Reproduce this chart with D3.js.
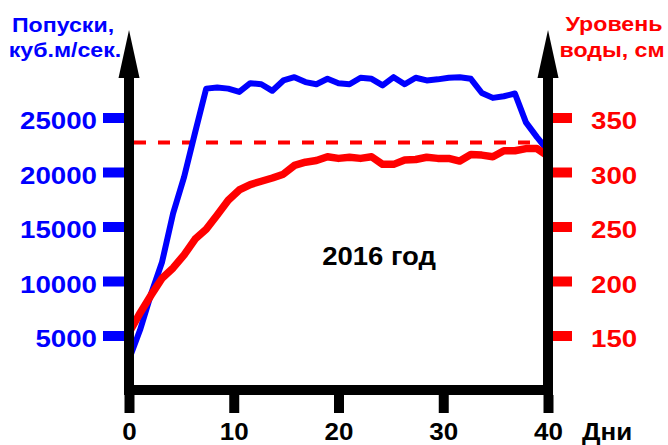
<!DOCTYPE html>
<html>
<head>
<meta charset="utf-8">
<script src="https://cdn.jsdelivr.net/npm/d3@7"></script>
<style>
  html, body { margin: 0; padding: 0; background: #fff; }
  svg { display: block; font-family: "Liberation Sans", Arial, sans-serif; font-weight: bold; }
</style>
</head>
<body>
<svg id="chart" width="668" height="445"></svg>
<script>
// ---- data ----
const days = [0,1,2,3,4,5,6,7,8,9,10,11,12,13,14,15,16,17,18,19,20,21,22,23,24,25,26,27,28,29,30,31,32,33,34,35,36,37,38];
const flow = [2800,5500,8800,11750,16200,19550,23650,27650,27750,27650,27350,28150,28050,27450,28400,28700,28250,28050,28550,28150,28050,28650,28550,27950,28700,28050,28650,28400,28500,28650,28700,28550,27250,26800,26950,27200,24550,23200,21950];
const level = [152.5,170.5,187,202.5,212,224,238.5,247.5,260.5,274,283.5,288.5,291.5,294.5,298,306,309,310.5,314,312.5,313.5,312.5,314,307,307,311,311.5,313.5,312.5,312.5,310,316,315.5,314,319.5,319.5,321.5,321.5,314.5];
const refLevel = [327];
const flowTicks = [5000,10000,15000,20000,25000];
const levelTicks = [150,200,250,300,350];
const xTickLabels = ["0","10","20","30","40"];
const leftTitle = ["Попуски,", "куб.м/сек."];
const rightTitle = ["Уровень", "воды, см"];
const xTitle = "Дни";
const yearLabel = "2016 год";

// ---- layout ----
const svg = d3.select("#chart");
const X0 = 129, X1 = 548, Y0 = 390, Ytop = 117.5;
const AX = 10;           // axis thickness
const SX = 1.13;         // horizontal text stretch
const BLUE = "#0000ff", RED = "#ff0000";

const x = d3.scalePoint().domain(days).range([X0, X1]);
const xTick = d3.scalePoint().domain(xTickLabels).range([X0, X1]);
const yL = d3.scaleLinear().domain([0, 25000]).range([Y0, Ytop]);
const yR = d3.scaleLinear().domain([100, 350]).range([Y0, Ytop]);

// reference dashed level
svg.append("line")
  .attr("x1", X0 + AX/2).attr("x2", X1 - AX/2)
  .attr("y1", yR(refLevel[0])).attr("y2", yR(refLevel[0]))
  .attr("stroke", RED).attr("stroke-width", 4)
  .attr("stroke-dasharray", "12,12");

// series lines
svg.append("path").datum(flow)
  .attr("fill", "none").attr("stroke", BLUE).attr("stroke-width", 6)
  .attr("stroke-linejoin", "round")
  .attr("d", d3.line().x((d, i) => x(days[i])).y(d => yL(d)));

svg.append("path").datum(level)
  .attr("fill", "none").attr("stroke", RED).attr("stroke-width", 7.5)
  .attr("stroke-linejoin", "round")
  .attr("d", d3.line().x((d, i) => x(days[i])).y(d => yR(d)));

// left y axis ticks and labels
const gL = svg.append("g").attr("transform", `translate(${X0 - AX/2},0)`)
  .call(d3.axisLeft(yL).tickValues(flowTicks).tickSize(21).tickFormat(d3.format("d")));
gL.select(".domain").remove();
gL.selectAll(".tick line").attr("stroke", BLUE).attr("stroke-width", 10);
gL.selectAll(".tick text")
  .attr("fill", BLUE).attr("font-size", 24.5).attr("font-weight", "bold")
  .attr("font-family", "Liberation Sans, Arial, sans-serif")
  .attr("x", -27 / SX).attr("dy", "0.45em")
  .attr("transform", `scale(${SX},1)`);

// right y axis ticks and labels
const gR = svg.append("g").attr("transform", `translate(${X1 + AX/2},0)`)
  .call(d3.axisRight(yR).tickValues(levelTicks).tickSize(19).tickFormat(d3.format("d")));
gR.select(".domain").remove();
gR.selectAll(".tick line").attr("stroke", RED).attr("stroke-width", 10);
gR.selectAll(".tick text")
  .attr("fill", RED).attr("font-size", 24.5).attr("font-weight", "bold")
  .attr("font-family", "Liberation Sans, Arial, sans-serif")
  .attr("x", 38 / SX).attr("dy", "0.45em")
  .attr("transform", `scale(${SX},1)`);

// x axis ticks and labels
const gX = svg.append("g").attr("transform", `translate(0,${Y0 + AX/2})`)
  .call(d3.axisBottom(xTick).tickSize(18));
gX.select(".domain").remove();
gX.selectAll(".tick line").attr("stroke", "#000").attr("stroke-width", 10);
gX.selectAll(".tick text")
  .attr("fill", "#000").attr("font-size", 23).attr("font-weight", "bold")
  .attr("font-family", "Liberation Sans, Arial, sans-serif")
  .attr("y", 45).attr("dy", 0)
  .attr("transform", `scale(${SX},1)`)
  .attr("x", 0);

// axes bodies
svg.append("rect").attr("x", X0 - AX/2).attr("y", Y0 - AX/2)
  .attr("width", X1 - X0 + AX).attr("height", AX).attr("fill", "#000");
[X0, X1].forEach(ax => {
  svg.append("rect").attr("x", ax - AX/2).attr("y", 76)
    .attr("width", AX).attr("height", Y0 - 76).attr("fill", "#000");
  svg.append("path")
    .attr("d", `M${ax},30 L${ax + 10.5},78 L${ax - 10.5},78 Z`)
    .attr("fill", "#000");
});

// helper for stretched text
function stext(txt, px, py, size, color, anchor, sx) {
  svg.append("text")
    .attr("transform", `translate(${px},${py}) scale(${sx},1)`)
    .attr("text-anchor", anchor)
    .attr("font-size", size).attr("font-weight", "bold")
    .attr("fill", color).text(txt);
}

stext(leftTitle[0], 63, 32, 20.5, BLUE, "middle", SX);
stext(leftTitle[1], 65, 57, 20.5, BLUE, "middle", SX);
stext(rightTitle[0], 614, 31, 20.5, RED, "middle", SX);
stext(rightTitle[1], 612, 57, 20.5, RED, "middle", SX);
stext(xTitle, 582, 440, 23, "#000", "start", SX);
stext(yearLabel, 379, 265, 25, "#000", "middle", 1.1);
</script>
</body>
</html>
